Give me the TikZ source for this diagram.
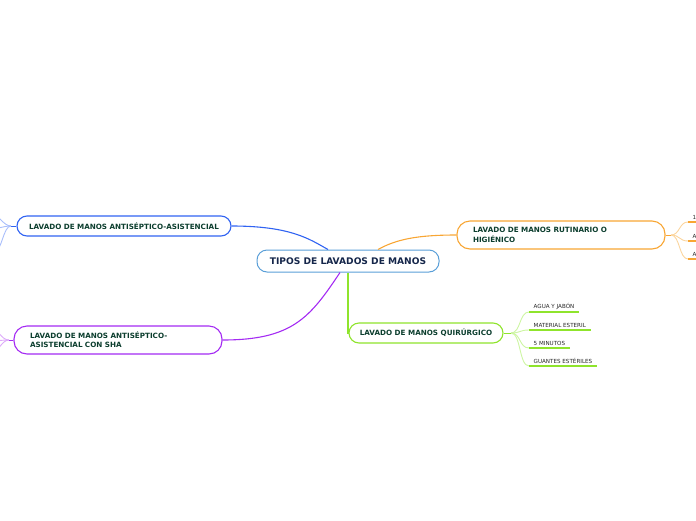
\documentclass[tikz,border=0pt]{standalone}
\usepackage{fontspec}
\setmainfont{DejaVu Sans}
\definecolor{navytxt}{HTML}{15264A}
\definecolor{greentxt}{HTML}{0C3E2E}
\definecolor{mainblue}{HTML}{5A9FD8}
\definecolor{cblue}{HTML}{3063F2}
\definecolor{lblue}{HTML}{A9BEFB}
\definecolor{cpurple}{HTML}{A42BF3}
\definecolor{lpurple}{HTML}{DDAAF9}
\definecolor{corange}{HTML}{F8A634}
\definecolor{lorange}{HTML}{FBD59E}
\definecolor{cgreen}{HTML}{8FE42C}
\definecolor{lgreen}{HTML}{CDF5A2}
\begin{document}
\begin{tikzpicture}[x=1pt,y=-1pt,
  mainbox/.style={draw=mainblue, line width=1pt, fill=white, rounded corners=10pt,
    minimum width=182pt, minimum height=22pt, inner sep=0pt,
    font=\fontsize{9.1}{10}\selectfont\bfseries, text=navytxt},
  branch/.style={draw=#1, line width=1.1pt, fill=white, rounded corners=10pt,
    align=left, inner ysep=0pt, minimum height=20pt,
    font=\fontsize{7.2}{9.3}\selectfont\bfseries, text=greentxt},
  leaf/.style={anchor=south west, inner xsep=4.5pt, inner ysep=2pt,
    font=\fontsize{5.6}{6.5}\selectfont, text=black!85},
  conn/.style={draw=#1, line width=1.1pt},
  twig/.style={draw=#1, line width=0.9pt},
  under/.style={draw=#1, line width=1.8pt}
]
\clip (0,0) rectangle (696,520);

% nodes
\node[mainbox] (main) at (348,261) {TIPOS DE LAVADOS DE MANOS};
\node[branch=cblue, text width=190pt, inner xsep=12pt] (blue) at (124,226)
  {LAVADO DE MANOS ANTISÉPTICO-ASISTENCIAL};
\node[branch=cpurple, text width=176pt, inner xsep=16pt, minimum height=28pt, rounded corners=13pt] (purple) at (118,340)
  {LAVADO DE MANOS ANTISÉPTICO-\\ASISTENCIAL CON SHA};
\node[branch=corange, text width=176pt, inner xsep=16pt, minimum height=28pt, rounded corners=13pt] (orange) at (561,235)
  {LAVADO DE MANOS RUTINARIO O\\HIGIÉNICO};
\node[branch=cgreen, minimum width=154pt, inner xsep=8pt] (green) at (426,333)
  {LAVADO DE MANOS QUIRÚRGICO};

% main connectors
\draw[conn=cblue] (blue.east) .. controls +(60,0) and +(-18,-10) .. ([xshift=-20pt]main.north);
\draw[conn=corange] ([xshift=30pt]main.north) .. controls +(18,-10) and +(-40,0) .. (orange.west);
\draw[conn=cpurple] ([xshift=-8pt]main.south) .. controls +(-30,45) and +(70,0) .. (purple.east);
\draw[conn=cgreen] (main.south) |- (green.west);

% green leaves
\coordinate (gj) at (511,333);
\node[leaf] (g1) at (529,312) {AGUA Y JABÓN};
\node[leaf] (g2) at (529,330) {MATERIAL ESTERIL};
\node[leaf] (g3) at (529,348) {5 MINUTOS};
\node[leaf] (g4) at (529,366) {GUANTES ESTÉRILES};
\draw[twig=cgreen] (green.east) -- (gj);
\foreach \n in {g1,g2,g3,g4}{
  \draw[twig=lgreen] (gj) .. controls +(10,0) and +(-10,0) .. (\n.south west);
  \draw[under=cgreen] (\n.south west) -- (\n.south east);
}

% orange leaves (cut by the edge)
\coordinate (oj) at (671,235);
\node[leaf] (o1) at (688,222) {1};
\node[leaf] (o2) at (688,241) {A};
\node[leaf] (o3) at (688,259) {A};
\draw[twig=corange] (orange.east) -- (oj);
\foreach \n in {o1,o2,o3}{
  \draw[twig=lorange] (oj) .. controls +(9,0) and +(-9,0) .. (\n.south west);
  \draw[under=corange] (\n.south west) -- ++(20,0);
}

% blue leaves (cut by the edge)
\coordinate (bj) at (11,226);
\coordinate (b1) at (-10,213);
\coordinate (b2) at (-10,229);
\coordinate (b3) at (-6,252);
\draw[twig=cblue] (blue.west) -- (bj);
\foreach \n in {b1,b2,b3}{
  \draw[twig=lblue] (bj) .. controls +(-8,0) and +(8,0) .. (\n);
}

% purple leaves (cut by the edge)
\coordinate (pj) at (9,340);
\coordinate (p1) at (-10,328);
\coordinate (p2) at (-10,341);
\coordinate (p3) at (-10,354);
\draw[twig=cpurple] (purple.west) -- (pj);
\foreach \n in {p1,p2,p3}{
  \draw[twig=lpurple] (pj) .. controls +(-8,0) and +(8,0) .. (\n);
}
\end{tikzpicture}
\end{document}
